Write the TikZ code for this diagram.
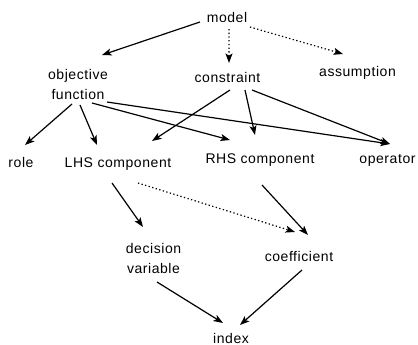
\documentclass[tikz,border=0pt]{standalone}
\usepackage{fontspec}
\setmainfont{Liberation Sans}[LetterSpace=4]
\usetikzlibrary{arrows.meta}
\begin{document}
\begin{tikzpicture}[x=1bp,y=-1bp,
  lbl/.style={inner sep=0pt, anchor=base, font=\fontsize{14bp}{20.5bp}\selectfont},
  arr/.style={line width=1.2bp, -{Stealth[length=9.5bp,width=7bp,inset=2.2bp]}},
  dotarr/.style={arr, dash pattern=on 1.3bp off 2.4bp}]
\useasboundingbox (0,0) rectangle (418,345);

% concepts, placed by their (first) baseline
\node[lbl] (model)       at (227,22)    {model};
\node[lbl] (obj)         at (78,79)     {\begin{tabular}[t]{@{}c@{}}objective\\function\end{tabular}};
\node[lbl] (constraint)  at (227.5,82)  {constraint};
\node[lbl] (assumption)  at (357.5,76)  {assumption};
\node[lbl] (role)        at (21,167)    {role};
\node[lbl] (lhs)         at (118,167)   {LHS component};
\node[lbl] (rhs)         at (260,163)   {RHS component};
\node[lbl] (operator)    at (387.5,163) {operator};
\node[lbl] (decision)    at (153.5,253) {\begin{tabular}[t]{@{}c@{}}decision\\variable\end{tabular}};
\node[lbl] (coefficient) at (299,261.5) {coefficient};
\node[lbl] (index)       at (231,343)   {index};

% links from the model
\draw[arr]    ([shift={(-27,0)}]model.base) -- ([shift={(24,-24)}]obj.base);
\draw[dotarr] ([shift={(2,7)}]model.base)   -- ([shift={(1.5,-19)}]constraint.base);
\draw[dotarr] ([shift={(23,5)}]model.base)  -- ([shift={(-14.5,-22)}]assumption.base);

% objective function
\draw[arr] ([shift={(-6,25)}]obj.base) -- ([shift={(4,-22)}]role.base);
\draw[arr] ([shift={(2,26)}]obj.base)  -- ([shift={(-21,-22)}]lhs.base);
\draw[arr] ([shift={(14,24)}]obj.base) -- ([shift={(-30,-23)}]rhs.base);
\draw[arr] ([shift={(29,23)}]obj.base) -- ([shift={(2.5,-19)}]operator.base);

% constraint
\draw[arr] ([shift={(2.5,8)}]constraint.base)  -- ([shift={(34,-26)}]lhs.base);
\draw[arr] ([shift={(17.5,8)}]constraint.base) -- ([shift={(-5,-28)}]rhs.base);
\draw[arr] ([shift={(24.5,8)}]constraint.base) -- ([shift={(2.5,-19)}]operator.base);

% components
\draw[arr]    ([shift={(-6,16)}]lhs.base) -- ([shift={(-10.5,-26)}]decision.base);
\draw[dotarr] ([shift={(20,16)}]lhs.base) -- ([shift={(-4,-29.5)}]coefficient.base);
\draw[arr]    ([shift={(2,22)}]rhs.base)  -- ([shift={(9,-26.5)}]coefficient.base);

% index
\draw[arr] ([shift={(3.5,29)}]decision.base) -- ([shift={(-8,-20)}]index.base);
\draw[arr] ([shift={(3,8.5)}]coefficient.base) -- ([shift={(9,-18)}]index.base);
\end{tikzpicture}
\end{document}
